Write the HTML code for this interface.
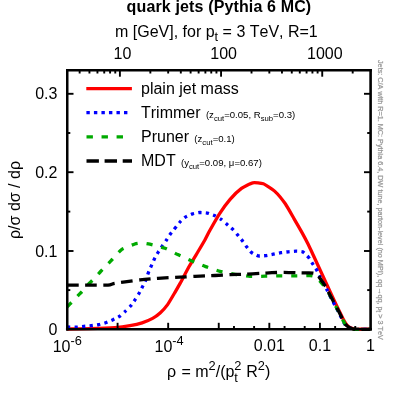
<!DOCTYPE html><html lang="en"><head><meta charset="utf-8"><title>quark jets</title>
<style>html,body{margin:0;padding:0;background:#fff}svg{display:block;will-change:transform}text{font-family:"Liberation Sans",sans-serif;fill:#000;font-kerning:none;font-variant-ligatures:none}</style></head><body>
<svg width="399" height="399" viewBox="0 0 399 399">
<rect width="399" height="399" fill="#fff"/>
<defs><clipPath id="cp"><rect x="67.00" y="70.20" width="303.50" height="260.70"/></clipPath></defs>
<g fill="none" stroke-width="3.30" clip-path="url(#cp)" stroke-linejoin="round">
<path d="M67.00 329.00 C68.92 328.98 86.00 328.82 90.00 328.70 C94.00 328.58 111.67 327.85 115.00 327.60 C118.33 327.35 127.74 326.09 130.00 325.70 C132.26 325.31 140.22 323.51 142.10 322.90 C143.98 322.29 151.10 319.22 152.60 318.40 C154.10 317.57 158.85 314.15 160.10 313.00 C161.35 311.85 166.36 306.33 167.60 304.60 C168.84 302.88 173.96 294.07 175.00 292.30 C176.04 290.53 178.92 285.55 180.10 283.40 C181.28 281.25 187.60 269.16 189.10 266.50 C190.60 263.84 196.78 253.71 198.10 251.50 C199.42 249.29 203.93 241.75 204.90 240.00 C205.88 238.25 208.58 232.70 209.80 230.50 C211.03 228.30 217.91 216.20 219.60 213.60 C221.29 211.00 228.28 201.40 230.10 199.30 C231.92 197.20 239.61 189.78 241.50 188.40 C243.39 187.03 250.98 183.18 252.80 182.80 C254.62 182.42 261.48 183.11 263.30 183.80 C265.12 184.49 272.77 189.43 274.60 191.10 C276.43 192.77 283.68 201.49 285.30 203.80 C286.93 206.11 292.68 216.36 294.10 218.80 C295.52 221.24 301.12 230.96 302.30 233.10 C303.48 235.24 307.39 242.68 308.30 244.50 C309.21 246.32 312.41 253.29 313.20 255.00 C313.99 256.71 317.03 263.33 317.80 265.00 C318.57 266.67 321.63 273.33 322.40 275.00 C323.17 276.67 326.23 283.33 327.00 285.00 C327.77 286.67 330.83 293.33 331.60 295.00 C332.38 296.67 335.50 303.33 336.30 305.00 C337.10 306.67 340.58 313.75 341.20 315.00 C341.82 316.25 343.31 319.27 343.70 320.00 C344.09 320.73 345.56 323.31 345.90 323.80 C346.24 324.29 347.46 325.60 347.80 325.90 C348.14 326.20 349.58 327.18 350.00 327.40 C350.42 327.62 352.30 328.35 352.80 328.50 C353.30 328.65 354.52 329.14 356.00 329.20 C357.48 329.26 369.29 329.20 370.50 329.20" stroke="#ff0000"/>
<path d="M67.00 327.00 C67.78 327.02 74.90 327.25 76.30 327.20 C77.70 327.15 82.55 326.52 83.80 326.40 C85.05 326.27 90.05 325.85 91.30 325.70 C92.55 325.55 97.61 324.85 98.80 324.60 C99.99 324.35 104.41 323.11 105.60 322.70 C106.79 322.29 111.91 320.25 113.10 319.70 C114.29 319.15 118.87 316.82 119.90 316.10 C120.93 315.38 124.59 311.96 125.50 311.10 C126.41 310.24 129.98 306.78 130.80 305.80 C131.62 304.82 134.61 300.44 135.30 299.40 C135.99 298.36 138.49 294.38 139.10 293.30 C139.71 292.23 142.10 287.46 142.60 286.50 C143.10 285.54 144.62 282.96 145.10 281.80 C145.58 280.64 147.88 273.95 148.40 272.60 C148.93 271.25 150.89 266.76 151.40 265.60 C151.91 264.44 153.93 259.83 154.50 258.70 C155.07 257.57 157.61 253.12 158.30 252.00 C158.99 250.88 162.12 246.30 162.80 245.30 C163.48 244.30 165.90 240.90 166.50 240.00 C167.10 239.10 168.88 236.00 170.00 234.50 C171.12 233.00 178.75 223.43 180.00 222.00 C181.25 220.57 183.96 217.98 185.00 217.30 C186.04 216.62 191.25 214.30 192.50 213.90 C193.75 213.50 198.74 212.57 200.00 212.50 C201.26 212.43 206.34 212.82 207.60 213.10 C208.86 213.38 213.97 215.28 215.10 215.80 C216.22 216.32 220.10 218.58 221.10 219.30 C222.10 220.02 226.10 223.53 227.10 224.40 C228.10 225.27 232.22 228.82 233.10 229.70 C233.97 230.57 236.78 233.93 237.60 234.90 C238.42 235.88 242.15 240.41 242.90 241.40 C243.65 242.39 245.87 245.87 246.60 246.80 C247.33 247.73 250.74 251.84 251.70 252.60 C252.66 253.36 256.93 255.65 258.10 255.90 C259.28 256.15 264.53 255.74 265.80 255.60 C267.07 255.46 272.05 254.44 273.30 254.20 C274.55 253.96 279.55 252.90 280.80 252.70 C282.05 252.50 287.04 251.93 288.30 251.80 C289.56 251.68 294.71 251.20 295.90 251.20 C297.09 251.20 301.55 251.29 302.60 251.80 C303.65 252.31 307.69 256.34 308.50 257.30 C309.31 258.26 311.61 262.23 312.30 263.30 C312.99 264.37 316.16 268.96 316.80 270.10 C317.44 271.24 319.12 275.31 320.00 277.00 C320.88 278.69 326.36 288.61 327.30 290.40 C328.24 292.19 330.63 297.20 331.30 298.50 C331.97 299.80 334.63 304.75 335.30 306.00 C335.97 307.25 338.63 312.21 339.30 313.50 C339.97 314.79 342.76 320.50 343.30 321.50 C343.84 322.50 345.38 325.00 345.80 325.50 C346.23 326.00 347.92 327.23 348.40 327.50 C348.88 327.77 351.01 328.55 351.60 328.70 C352.19 328.85 353.93 329.25 355.50 329.30 C357.07 329.35 369.25 329.30 370.50 329.30" stroke="#0000ff" stroke-dasharray="3.3 4.24"/>
<path d="M67.00 307.00 C67.46 306.54 71.60 302.43 72.50 301.50 C73.40 300.57 76.98 296.66 77.80 295.80 C78.62 294.94 81.42 292.14 82.30 291.20 C83.17 290.26 87.42 285.43 88.30 284.50 C89.17 283.57 91.92 280.92 92.80 280.00 C93.67 279.08 98.15 274.21 98.80 273.50 C99.45 272.79 99.57 272.57 100.60 271.50 C101.62 270.43 109.38 262.51 111.10 260.70 C112.82 258.89 119.32 251.19 121.30 249.80 C123.28 248.41 133.08 244.57 134.80 244.00 C136.53 243.43 140.74 242.98 142.00 243.00 C143.26 243.02 147.98 243.76 149.90 244.20 C151.82 244.64 162.68 247.43 165.00 248.30 C167.32 249.17 175.60 253.56 177.80 254.60 C180.00 255.64 189.08 259.80 191.40 260.80 C193.72 261.80 203.22 265.73 205.60 266.60 C207.98 267.48 217.55 270.66 220.00 271.30 C222.45 271.94 232.50 273.88 235.00 274.30 C237.50 274.73 247.50 276.24 250.00 276.40 C252.50 276.56 262.50 276.24 265.00 276.20 C267.50 276.16 277.50 275.92 280.00 275.90 C282.50 275.88 292.50 275.92 295.00 275.90 C297.50 275.88 308.33 275.55 310.00 275.60 C311.67 275.65 314.29 276.19 315.00 276.50 C315.71 276.81 317.75 278.51 318.50 279.30 C319.25 280.09 323.10 284.77 324.00 286.00 C324.90 287.23 328.33 292.33 329.30 294.00 C330.27 295.67 334.74 304.38 335.60 306.00 C336.46 307.62 338.93 312.21 339.60 313.50 C340.27 314.79 343.10 320.54 343.60 321.50 C344.10 322.46 345.22 324.52 345.60 325.00 C345.98 325.48 347.72 326.90 348.20 327.20 C348.68 327.50 350.73 328.43 351.30 328.60 C351.87 328.78 353.40 329.24 355.00 329.30 C356.60 329.36 369.21 329.30 370.50 329.30" stroke="#00aa00" stroke-dasharray="6.3 8.75"/>
<path d="M67.00 285.20 C68.92 285.20 86.78 285.20 90.00 285.20 C93.22 285.20 103.93 285.23 105.60 285.20 C107.27 285.17 109.25 284.95 110.00 284.80 C110.75 284.65 113.34 283.64 114.60 283.40 C115.86 283.16 122.97 282.19 125.10 281.90 C127.22 281.61 137.97 280.15 140.10 279.90 C142.22 279.65 148.53 279.07 150.60 278.90 C152.67 278.73 162.55 278.05 165.00 277.90 C167.45 277.75 177.50 277.23 180.00 277.10 C182.50 276.98 192.87 276.50 195.00 276.40 C197.13 276.30 203.93 275.97 205.60 275.90 C207.27 275.82 212.97 275.61 215.00 275.50 C217.03 275.39 227.50 274.71 230.00 274.60 C232.50 274.49 242.50 274.30 245.00 274.20 C247.50 274.10 257.75 273.52 260.00 273.40 C262.25 273.27 270.00 272.79 272.00 272.70 C274.00 272.61 282.00 272.30 284.00 272.30 C286.00 272.30 294.04 272.65 296.00 272.70 C297.96 272.75 306.02 272.86 307.50 272.90 C308.98 272.94 312.88 272.92 313.80 273.20 C314.72 273.48 317.65 275.38 318.50 276.30 C319.35 277.22 323.38 283.31 324.00 284.20 C324.62 285.09 325.61 286.30 326.00 287.00 C326.39 287.70 328.28 291.77 328.70 292.60 C329.12 293.43 330.52 296.01 331.05 297.00 C331.58 297.99 334.38 303.25 335.05 304.50 C335.72 305.75 338.38 310.71 339.05 312.00 C339.72 313.29 342.54 319.00 343.05 320.00 C343.56 321.00 344.80 323.46 345.20 324.00 C345.60 324.54 347.32 326.15 347.80 326.50 C348.28 326.85 350.40 327.97 351.00 328.20 C351.60 328.43 353.38 329.11 355.00 329.20 C356.62 329.29 369.21 329.29 370.50 329.30" stroke="#000000" stroke-dasharray="11.7 6.4"/>
</g>
<g stroke="#000" stroke-width="1.9" fill="none">
<line x1="117.58" y1="329.30" x2="117.58" y2="322.80"/>
<line x1="168.17" y1="329.30" x2="168.17" y2="322.80"/>
<line x1="218.75" y1="329.30" x2="218.75" y2="322.80"/>
<line x1="269.33" y1="329.30" x2="269.33" y2="322.80"/>
<line x1="319.92" y1="329.30" x2="319.92" y2="322.80"/>
<line x1="233.98" y1="329.30" x2="233.98" y2="326.00"/>
<line x1="254.11" y1="329.30" x2="254.11" y2="326.00"/>
<line x1="284.56" y1="329.30" x2="284.56" y2="326.00"/>
<line x1="304.69" y1="329.30" x2="304.69" y2="326.00"/>
<line x1="335.14" y1="329.30" x2="335.14" y2="326.00"/>
<line x1="355.27" y1="329.30" x2="355.27" y2="326.00"/>
<line x1="119.90" y1="70.20" x2="119.90" y2="76.70"/>
<line x1="221.06" y1="70.20" x2="221.06" y2="76.70"/>
<line x1="322.23" y1="70.20" x2="322.23" y2="76.70"/>
<line x1="79.64" y1="70.20" x2="79.64" y2="73.50"/>
<line x1="89.44" y1="70.20" x2="89.44" y2="73.50"/>
<line x1="97.45" y1="70.20" x2="97.45" y2="73.50"/>
<line x1="104.23" y1="70.20" x2="104.23" y2="73.50"/>
<line x1="110.09" y1="70.20" x2="110.09" y2="73.50"/>
<line x1="115.27" y1="70.20" x2="115.27" y2="73.50"/>
<line x1="150.35" y1="70.20" x2="150.35" y2="73.50"/>
<line x1="168.17" y1="70.20" x2="168.17" y2="73.50"/>
<line x1="180.81" y1="70.20" x2="180.81" y2="73.50"/>
<line x1="190.61" y1="70.20" x2="190.61" y2="73.50"/>
<line x1="198.62" y1="70.20" x2="198.62" y2="73.50"/>
<line x1="205.39" y1="70.20" x2="205.39" y2="73.50"/>
<line x1="211.26" y1="70.20" x2="211.26" y2="73.50"/>
<line x1="216.44" y1="70.20" x2="216.44" y2="73.50"/>
<line x1="251.52" y1="70.20" x2="251.52" y2="73.50"/>
<line x1="269.33" y1="70.20" x2="269.33" y2="73.50"/>
<line x1="281.97" y1="70.20" x2="281.97" y2="73.50"/>
<line x1="291.78" y1="70.20" x2="291.78" y2="73.50"/>
<line x1="299.79" y1="70.20" x2="299.79" y2="73.50"/>
<line x1="306.56" y1="70.20" x2="306.56" y2="73.50"/>
<line x1="312.43" y1="70.20" x2="312.43" y2="73.50"/>
<line x1="317.60" y1="70.20" x2="317.60" y2="73.50"/>
<line x1="352.69" y1="70.20" x2="352.69" y2="73.50"/>
<line x1="67.00" y1="251.00" x2="73.50" y2="251.00"/>
<line x1="370.50" y1="251.00" x2="364.00" y2="251.00"/>
<line x1="67.00" y1="172.20" x2="73.50" y2="172.20"/>
<line x1="370.50" y1="172.20" x2="364.00" y2="172.20"/>
<line x1="67.00" y1="93.80" x2="73.50" y2="93.80"/>
<line x1="370.50" y1="93.80" x2="364.00" y2="93.80"/>
<line x1="67.00" y1="290.10" x2="70.30" y2="290.10"/>
<line x1="370.50" y1="290.10" x2="367.20" y2="290.10"/>
<line x1="67.00" y1="211.60" x2="70.30" y2="211.60"/>
<line x1="370.50" y1="211.60" x2="367.20" y2="211.60"/>
<line x1="67.00" y1="133.00" x2="70.30" y2="133.00"/>
<line x1="370.50" y1="133.00" x2="367.20" y2="133.00"/>
</g>
<g stroke="#000" fill="none" stroke-linecap="square">
<line x1="67.25" y1="70.20" x2="67.25" y2="329.30" stroke-width="2.5"/>
<line x1="370.60" y1="70.20" x2="370.60" y2="329.30" stroke-width="2.6"/>
<line x1="67.25" y1="70.20" x2="370.60" y2="70.20" stroke-width="2.4"/>
<line x1="67.25" y1="329.30" x2="370.60" y2="329.30" stroke-width="2.6"/>
</g>
<g fill="none" stroke-width="3.30">
<line x1="86.3" y1="88.6" x2="131.9" y2="88.6" stroke="#ff0000"/>
<line x1="86.4" y1="112.7" x2="128.0" y2="112.7" stroke="#0000ff" stroke-dasharray="3.4 4.12"/>
<line x1="86.5" y1="136.8" x2="124.0" y2="136.8" stroke="#00aa00" stroke-dasharray="6.4 8.64"/>
<line x1="86.5" y1="161.0" x2="132.0" y2="161.0" stroke="#000" stroke-dasharray="12.4 5.7"/>
</g>
<g font-size="16">
<text x="141" y="94">plain jet mass</text>
<text x="141" y="117.5">Trimmer <tspan font-size="9.6" dx="0.9">(z</tspan><tspan font-size="7.7" dy="3.0">cut</tspan><tspan font-size="9.6" dy="-3.0">=0.05, R</tspan><tspan font-size="7.7" dy="3.0">sub</tspan><tspan font-size="9.6" dy="-3.0">=0.3)</tspan></text>
<text x="141" y="142">Pruner <tspan font-size="9.6" dx="0.9">(z</tspan><tspan font-size="7.7" dy="3.0">cut</tspan><tspan font-size="9.6" dy="-3.0">=0.1)</tspan></text>
<text x="141" y="165.5">MDT <tspan font-size="9.6" dx="0.9">(y</tspan><tspan font-size="7.7" dy="3.0">cut</tspan><tspan font-size="9.6" dy="-3.0">=0.09, μ=0.67)</tspan></text>
<text x="126.6" y="11.9" font-weight="bold" textLength="184.6" lengthAdjust="spacing">quark jets (Pythia 6 MC)</text>
<text x="115" y="36.9">m [GeV], for p<tspan font-size="12.8" dy="4">t</tspan><tspan dy="-4"> = 3 TeV, R=1</tspan></text>
<text x="122.50" y="59.2" text-anchor="middle">10</text>
<text x="223.66" y="59.2" text-anchor="middle">100</text>
<text x="324.83" y="59.2" text-anchor="middle">1000</text>
<text x="57.4" y="335.20" text-anchor="end">0</text>
<text x="57.4" y="256.60" text-anchor="end">0.1</text>
<text x="57.4" y="177.80" text-anchor="end">0.2</text>
<text x="57.4" y="99.40" text-anchor="end">0.3</text>
<text x="67.30" y="352" text-anchor="middle">10<tspan font-size="12.8" dy="-7">-6</tspan></text>
<text x="169.17" y="352" text-anchor="middle">10<tspan font-size="12.8" dy="-7">-4</tspan></text>
<text x="269.33" y="351" text-anchor="middle">0.01</text>
<text x="319.92" y="351" text-anchor="middle">0.1</text>
<text x="370.50" y="351" text-anchor="middle">1</text>
<text x="167" y="376.9">ρ<tspan dx="0.9"> = m</tspan><tspan font-size="12.8" dy="-7">2</tspan><tspan dy="7">/(p</tspan><tspan font-size="12.8" dy="4.7">t</tspan><tspan font-size="12.8" dy="-11.7" dx="-3.6">2</tspan><tspan dy="7" dx="0.4"> R</tspan><tspan font-size="12.8" dy="-7">2</tspan><tspan dy="7">)</tspan></text>
<text transform="translate(19.5,200) rotate(-90)" text-anchor="middle">ρ/σ dσ / dρ</text>
</g>
<text transform="translate(377.7,60.0) rotate(90)" font-size="8" textLength="279.8" lengthAdjust="spacingAndGlyphs" style="fill:#989898;stroke:#989898;stroke-width:0.25">Jets: C/A with R=1. MC: Pythia 6.4, DW tune, parton-level (no MPI), qq→qq, p<tspan font-size="6.4" dy="1.7">t</tspan><tspan dy="-1.7"> &gt; 3 TeV</tspan></text>
</svg></body></html>
